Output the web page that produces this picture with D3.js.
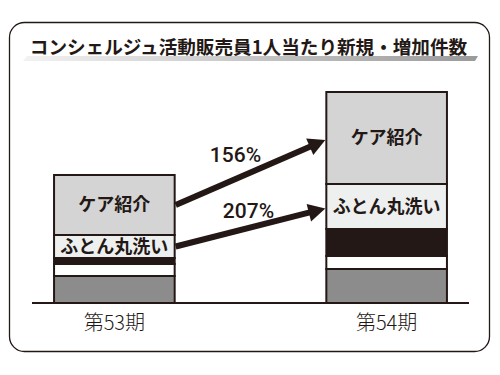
<!DOCTYPE html>
<html>
<head>
<meta charset="utf-8">
<script src="https://cdn.jsdelivr.net/npm/d3@7"></script>
<style>
  body { margin: 0; background: #fff; }
  svg { display: block; }
  text { font-family: "Noto Sans CJK JP", sans-serif; fill: #231815; }
</style>
</head>
<body>
<svg width="500" height="375"></svg>
<script>
var title    = 'コンシェルジュ活動販売員1人当たり新規・増加件数';
var periods  = ['第53期', '第54期'];
// stacked from the bottom up
var segments = ['その他', '区分B', '区分A', 'ふとん丸洗い', 'ケア紹介'];
var period53 = [27, 12, 6, 23, 60];
var period54 = [34, 13, 27, 45, 92];
var growthFrom   = ['ケア紹介', 'ふとん丸洗い'];
var growthLabels = ['156%', '207%'];

var colors = {
  'その他': '#8c8c8c',
  '区分B': '#ffffff',
  '区分A': '#231815',
  'ふとん丸洗い': '#eeefef',
  'ケア紹介': '#d4d4d4'
};
var ink = '#231815';

window.onload = function() {
  var svg = d3.select('svg');

  // frame
  svg.append('rect')
    .attr('x', 9.5).attr('y', 22.5)
    .attr('width', 480).attr('height', 329)
    .attr('rx', 15)
    .style('fill', 'none')
    .style('stroke', ink)
    .style('stroke-width', 1.3);

  // title shadow bar
  var grad = svg.append('defs').append('linearGradient')
    .attr('id', 'shade');
  grad.append('stop').attr('offset', '0%').attr('stop-color', '#f2f2f2');
  grad.append('stop').attr('offset', '100%').attr('stop-color', '#9a9a9a');
  svg.append('path')
    .attr('d', 'M27,56 L478,56 L475,61 L23,61 Z')
    .style('fill', 'url(#shade)');

  svg.append('text')
    .attr('x', 248.5).attr('y', 54)
    .attr('text-anchor', 'middle')
    .style('font-size', '18.6px')
    .style('font-weight', 'bold')
    .text(title);

  var x = d3.scaleBand()
    .domain(periods)
    .range([32, 469])
    .paddingInner(0.557)
    .paddingOuter(0.081);

  var y = d3.scaleLinear()
    .domain([0, 220])
    .range([303, 83]);

  var table = segments.map(function(s, i) {
    return { key: s, '第53期': period53[i], '第54期': period54[i] };
  });
  var rows = periods.map(function(p) {
    var r = { period: p };
    table.forEach(function(t) { r[t.key] = t[p]; });
    return r;
  });
  var series = d3.stack().keys(segments)(rows);

  var layers = svg.selectAll('g.layer')
    .data(series)
    .enter()
    .append('g')
    .attr('class', 'layer');

  layers.selectAll('rect')
    .data(function(s) { return s.map(function(d) { return { key: s.key, d: d }; }); })
    .enter()
    .append('rect')
    .attr('x', function(o) { return x(o.d.data.period); })
    .attr('width', x.bandwidth())
    .attr('y', function(o) { return y(o.d[1]); })
    .attr('height', function(o) { return y(o.d[0]) - y(o.d[1]); })
    .style('fill', function(o) { return colors[o.key]; })
    .style('stroke', ink)
    .style('stroke-width', 2);

  // labels on the two named segments
  series.filter(function(s) { return s.key == 'ケア紹介' || s.key == 'ふとん丸洗い'; })
    .forEach(function(s) {
      s.forEach(function(d) {
        svg.append('text')
          .attr('x', x(d.data.period) + x.bandwidth() / 2)
          .attr('y', (y(d[0]) + y(d[1])) / 2)
          .attr('dy', '0.36em')
          .attr('text-anchor', 'middle')
          .style('font-size', '18px')
          .style('font-weight', 'bold')
          .text(s.key);
      });
    });

  // baseline
  svg.append('line')
    .attr('x1', 32).attr('x2', 469)
    .attr('y1', y(0)).attr('y2', y(0))
    .style('stroke', ink)
    .style('stroke-width', 2);

  // period labels
  svg.selectAll('text.period')
    .data(periods)
    .enter()
    .append('text')
    .attr('class', 'period')
    .attr('x', function(p) { return x(p) + x.bandwidth() / 2; })
    .attr('y', 330)
    .attr('text-anchor', 'middle')
    .style('font-size', '20px')
    .style('font-weight', 300)
    .text(function(p) { return p; });

  // growth arrows
  var labelShift = [[-15, -11], [-2, -10]];
  growthFrom.forEach(function(key, i) {
    var s = series.find(function(l) { return l.key == key; });
    var a = s[0], b = s[1];
    var x1 = x(periods[0]) + x.bandwidth() + 1;
    var y1 = (y(a[0]) + y(a[1])) / 2;
    var x2 = x(periods[1]) - 1;
    var y2 = (y(b[0]) + y(b[1])) / 2 + 2;
    var ang = Math.atan2(y2 - y1, x2 - x1);
    var hl = 17, hw = 9;
    var bx = x2 - hl * Math.cos(ang), by = y2 - hl * Math.sin(ang);

    svg.append('line')
      .attr('x1', x1).attr('y1', y1)
      .attr('x2', bx + 2 * Math.cos(ang)).attr('y2', by + 2 * Math.sin(ang))
      .style('stroke', ink)
      .style('stroke-width', 6);

    var pts = [
      [x2, y2],
      [bx + hw * Math.sin(ang), by - hw * Math.cos(ang)],
      [bx - hw * Math.sin(ang), by + hw * Math.cos(ang)]
    ];
    svg.append('polygon')
      .attr('points', pts.map(function(p) { return p.join(','); }).join(' '))
      .style('fill', ink);

    svg.append('text')
      .attr('x', (x1 + x2) / 2 + labelShift[i][0])
      .attr('y', (y1 + y2) / 2 + labelShift[i][1])
      .attr('text-anchor', 'middle')
      .style('font-family', 'Roboto, "Liberation Sans", sans-serif')
      .style('font-weight', 500)
      .style('font-size', '21px')
      .text(growthLabels[i]);
  });
};
</script>
</body>
</html>
